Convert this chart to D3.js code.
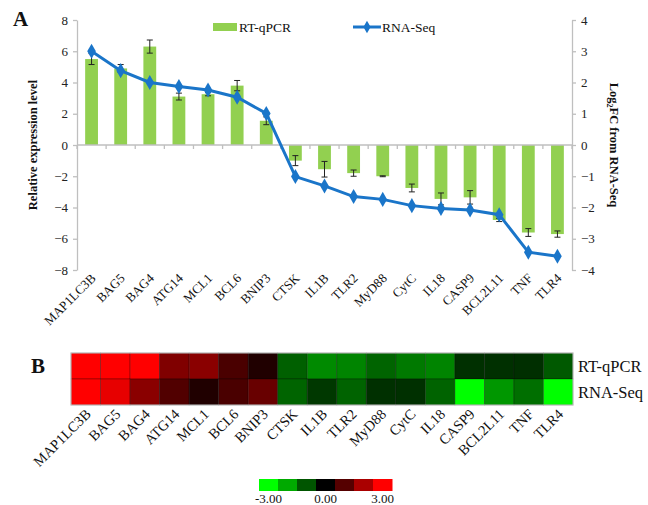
<!DOCTYPE html>
<html><head><meta charset="utf-8">
<script src="https://cdn.jsdelivr.net/npm/d3@7"></script>
<style>body{margin:0;background:#fff}svg{display:block}text{font-family:"Liberation Serif","Times New Roman",serif}</style>
</head><body>
<svg id="c" width="648" height="505"></svg>
<script>
const genes = ["MAP1LC3B","BAG5","BAG4","ATG14","MCL1","BCL6","BNIP3","CTSK","IL1B","TLR2","MyD88","CytC","IL18","CASP9","BCL2L11","TNF","TLR4"];
const qpcr = [5.5,4.9,6.3,3.1,3.25,3.8,1.55,-1.0,-1.55,-1.8,-2.0,-2.75,-3.45,-3.35,-4.8,-5.6,-5.7];
const qpcrErr = [0.35,0.25,0.42,0.22,0.1,0.33,0.25,0.32,0.5,0.2,0.03,0.25,0.38,0.43,0.1,0.25,0.2];
const rnaseq = [3.0,2.38,2.0,1.87,1.76,1.53,1.01,-1.01,-1.31,-1.65,-1.74,-1.94,-2.03,-2.08,-2.23,-3.43,-3.56];
const leftTicks = [-8,-6,-4,-2,0,2,4,6,8];
const rightTicks = [-4,-3,-2,-1,0,1,2,3,4];
const heatRows = ["RT-qPCR","RNA-Seq"];
const heatQpcr = [3.0,3.0,3.0,1.5,1.62,0.87,0.38,-1.13,-1.62,-1.55,-1.18,-1.42,-1.55,-0.56,-0.56,-0.55,-1.05];
const heatRna = [3.0,2.72,1.62,0.95,0.38,0.87,1.22,-1.18,-0.66,-1.17,-0.56,-0.56,-1.17,-3.0,-1.78,-1.3,-3.0];
const legendStops = [-3,-2,-1,0,1,2,3];
const legendLabels = [["-3.00",-3],["0.00",0],["3.00",3]];

const svg = d3.select("#c");
const gray = "#bfbfbf";
const x = d3.scaleBand().domain(genes).range([77,572]);
const yL = d3.scaleLinear().domain([-8,8]).range([270,20]);
const yR = d3.scaleLinear().domain([-4,4]).range([270,20]);

// axes
const axL = svg.append("g").attr("transform","translate(77,0)")
  .call(d3.axisLeft(yL).tickValues(leftTicks).tickSize(4).tickSizeOuter(0));
const axR = svg.append("g").attr("transform","translate(572,0)")
  .call(d3.axisRight(yR).tickValues(rightTicks).tickSize(4).tickSizeOuter(0));
[axL,axR].forEach(a=>{
  a.select(".domain").attr("stroke",gray).attr("stroke-width",1.3);
  a.selectAll(".tick line").attr("stroke",gray).attr("stroke-width",1.3);
  a.selectAll(".tick text").attr("fill","#222").attr("font-size",13);
});
axL.selectAll(".tick text").attr("x",-9);
axR.selectAll(".tick text").attr("x",9);

// bars
svg.append("g").selectAll("rect").data(genes).join("rect")
  .attr("x",d=>x(d)+x.bandwidth()*0.28)
  .attr("width",x.bandwidth()*0.44)
  .attr("y",(d,i)=>yL(Math.max(0,qpcr[i])))
  .attr("height",(d,i)=>Math.abs(yL(qpcr[i])-yL(0)))
  .attr("fill","#92d050");

// zero line with category ticks
const ax0 = svg.append("g").attr("transform",`translate(0,${yL(0)})`);
ax0.append("line").attr("x1",77).attr("x2",572).attr("stroke",gray).attr("stroke-width",1.3);
ax0.selectAll("line.t").data(genes.concat(["_end"])).join("line").attr("class","t")
  .attr("x1",(d,i)=>77+i*x.step()).attr("x2",(d,i)=>77+i*x.step())
  .attr("y1",0).attr("y2",4).attr("stroke",gray).attr("stroke-width",1.3);

// error bars
const eb = svg.append("g").attr("stroke","#222").attr("stroke-width",1);
genes.forEach((g,i)=>{
  const cx = x(g)+x.bandwidth()/2;
  const t = yL(qpcr[i]+qpcrErr[i]), b = yL(qpcr[i]-qpcrErr[i]);
  eb.append("line").attr("x1",cx).attr("x2",cx).attr("y1",t).attr("y2",b);
  eb.append("line").attr("x1",cx-3).attr("x2",cx+3).attr("y1",t).attr("y2",t);
  eb.append("line").attr("x1",cx-3).attr("x2",cx+3).attr("y1",b).attr("y2",b);
});

// line
const blue = "#1a75c9";
const line = d3.line().x((d,i)=>x(genes[i])+x.bandwidth()/2).y(d=>yR(d));
svg.append("path").datum(rnaseq).attr("d",line).attr("fill","none").attr("stroke",blue).attr("stroke-width",3);
const diamond = d3.symbol().type(d3.symbolDiamond).size(65);
svg.append("g").selectAll("path").data(rnaseq).join("path")
  .attr("d",diamond)
  .attr("transform",(d,i)=>`translate(${x(genes[i])+x.bandwidth()/2},${yR(d)})`)
  .attr("fill",blue);

// x labels
svg.append("g").selectAll("text").data(genes).join("text")
  .attr("transform",d=>`translate(${x(d)+x.bandwidth()/2+5},${279}) rotate(-45)`)
  .attr("text-anchor","end").attr("font-size",13).attr("fill","#111").text(d=>d);

// axis titles
svg.append("text").attr("transform","translate(37,145) rotate(-90)").attr("text-anchor","middle")
  .attr("font-size",12.5).attr("font-weight","bold").attr("fill","#111").text("Relative expression level");
const rt = svg.append("text").attr("transform","translate(610,145) rotate(90)").attr("text-anchor","middle")
  .attr("font-size",12.5).attr("font-weight","bold").attr("fill","#111");
rt.append("tspan").text("Log");
rt.append("tspan").attr("font-size",8).attr("dy",3).text("2");
rt.append("tspan").attr("dy",-3).text("FC from RNA-Seq");

// legend
svg.append("rect").attr("x",213).attr("y",23).attr("width",24).attr("height",8).attr("fill","#92d050");
svg.append("text").attr("x",239).attr("y",32).attr("font-size",13.5).attr("fill","#111").text("RT-qPCR");
svg.append("line").attr("x1",353).attr("x2",381).attr("y1",27).attr("y2",27).attr("stroke",blue).attr("stroke-width",3);
svg.append("path").attr("d",d3.symbol().type(d3.symbolDiamond).size(45)).attr("transform","translate(367,27)").attr("fill",blue);
svg.append("text").attr("x",382).attr("y",32).attr("font-size",13.5).attr("fill","#111").text("RNA-Seq");

// panel labels
svg.append("text").attr("x",13).attr("y",26).attr("font-size",21).attr("font-weight","bold").attr("fill","#111").text("A");
svg.append("text").attr("x",31).attr("y",373).attr("font-size",21).attr("font-weight","bold").attr("fill","#111").text("B");

// heatmap
const color = d3.scaleLinear().domain([-3,0,3]).range(["#00ff00","#000000","#ff0000"]).clamp(true);
const hx = d3.scaleBand().domain(genes).range([71,573]);
const hy = d3.scaleBand().domain(heatRows).range([353,405]);
const hData = [heatQpcr, heatRna];
const hg = svg.append("g");
heatRows.forEach((r,ri)=>{
  hg.selectAll("rect.r"+ri).data(genes).join("rect").attr("class","r"+ri)
    .attr("x",d=>hx(d)).attr("y",hy(r)).attr("width",hx.bandwidth()).attr("height",hy.bandwidth())
    .attr("fill",(d,i)=>color(hData[ri][i])).attr("stroke","rgba(0,0,0,0.35)").attr("stroke-width",0.8);
});
hg.append("rect").attr("x",71).attr("y",353).attr("width",502).attr("height",52)
  .attr("fill","none").attr("stroke","#c8c8c8").attr("stroke-width",1);
svg.append("g").selectAll("text").data(heatRows).join("text")
  .attr("x",578).attr("y",d=>hy(d)+hy.bandwidth()/2+5.5).attr("font-size",16.5).attr("fill","#111").text(d=>d);
svg.append("g").selectAll("text").data(genes).join("text")
  .attr("transform",d=>`translate(${hx(d)+hx.bandwidth()/2+6},${415}) rotate(-45)`)
  .attr("text-anchor","end").attr("font-size",14.5).attr("fill","#111").text(d=>d);

// color legend
const lx = d3.scaleBand().domain(legendStops).range([259,392]);
const binColor = d3.scaleLinear().domain([-3,0,3]).range(["#00ff00","#000000","#ff0000"]);
svg.append("g").selectAll("rect").data(legendStops).join("rect")
  .attr("x",d=>lx(d)).attr("y",479).attr("width",lx.bandwidth()+0.5).attr("height",12)
  .attr("fill",d=>binColor(d));
svg.append("g").selectAll("text").data(legendLabels).join("text")
  .attr("x",d=>lx(d[1])+lx.bandwidth()/2).attr("y",503).attr("text-anchor","middle").attr("font-size",13).attr("fill","#111").text(d=>d[0]);
</script>
</body></html>
